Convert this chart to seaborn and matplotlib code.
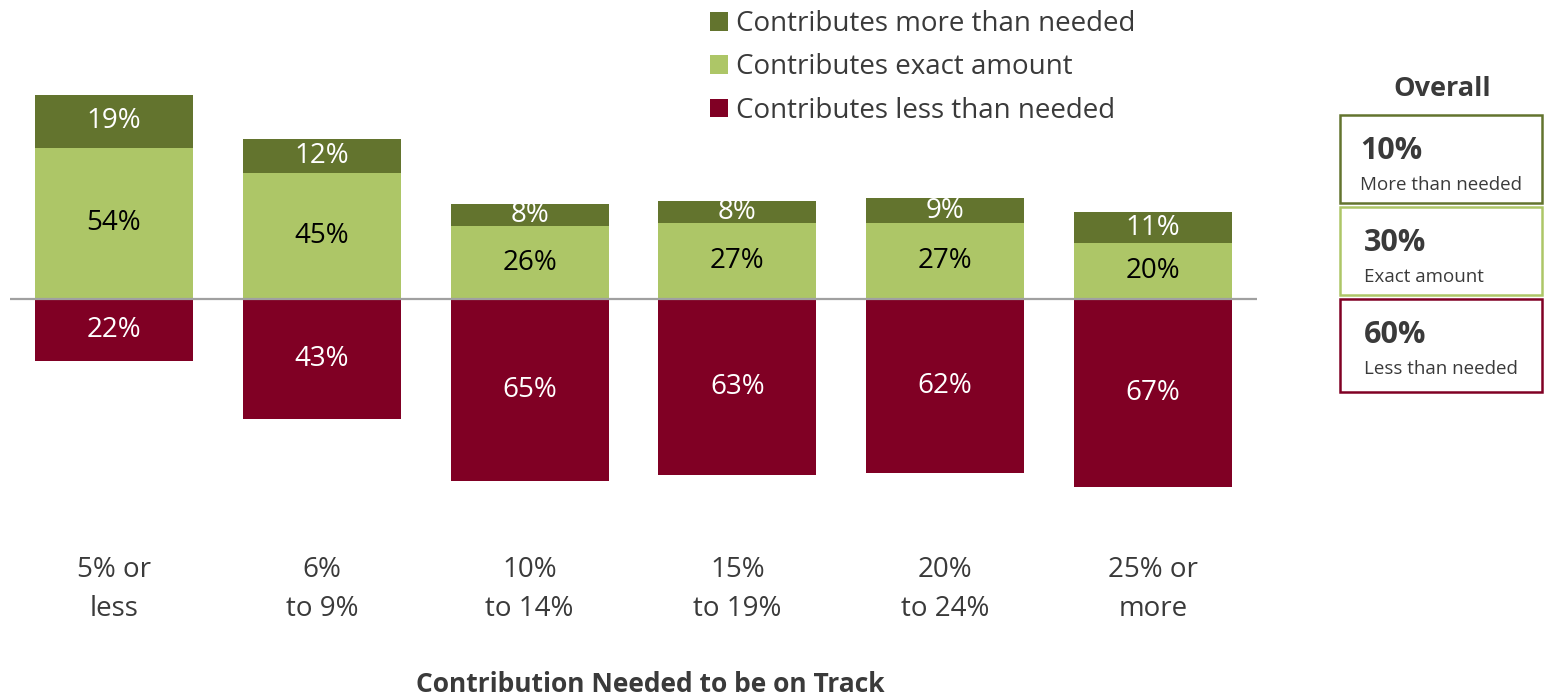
import matplotlib
matplotlib.use("Agg")
import matplotlib.pyplot as plt
import matplotlib.patches as mpatches
import seaborn as sns
import pandas as pd
import numpy as np

categories = ["5% or\nless", "6%\nto 9%", "10%\nto 14%", "15%\nto 19%", "20%\nto 24%", "25% or\nmore"]
more_than = [19, 12, 8, 8, 9, 11]
exact = [54, 45, 26, 27, 27, 20]
less_than = [22, 43, 65, 63, 62, 67]
series_names = ["Contributes more than needed", "Contributes exact amount", "Contributes less than needed"]
overall_values = [10, 30, 60]
overall_labels = ["More than needed", "Exact amount", "Less than needed"]
x_title = "Contribution Needed to be on Track"

C_DARK = "#63742E"
C_LIGHT = "#ADC667"
C_RED = "#800024"
TXT = "#3A3A3A"

sns.set_theme(style="white")
plt.rcParams['font.family'] = ['Open Sans', 'DejaVu Sans']

W, H = 1546, 700
fig = plt.figure(figsize=(W / 100, H / 100), dpi=100)
ax = fig.add_axes([10 / W, (700 - 525) / H, 1247 / W, 480 / H])

df = pd.DataFrame({
    "cat": categories,
    "more": more_than,
    "exact": exact,
    "less": less_than,
})
df["top"] = df["more"] + df["exact"]
df["neg"] = -df["less"]

bw = 0.76
sns.barplot(data=df, x="cat", y="top", color=C_DARK, width=bw, ax=ax,
            saturation=1, linewidth=0, label=series_names[0])
sns.barplot(data=df, x="cat", y="exact", color=C_LIGHT, width=bw, ax=ax,
            saturation=1, linewidth=0, label=series_names[1])
sns.barplot(data=df, x="cat", y="neg", color=C_RED, width=bw, ax=ax,
            saturation=1, linewidth=0, label=series_names[2])

ax.axhline(0, color="#A0A0A0", lw=1.6, zorder=5)
ax.set_xlim(-0.5, 5.5)
ax.set_ylim(-80.7, 90.7)

LBL = 20
for i in range(len(categories)):
    m, e, l = more_than[i], exact[i], less_than[i]
    ax.text(i, e + m / 2, f"{m}%", ha="center", va="center", color="white", fontsize=LBL)
    ax.text(i, e / 2, f"{e}%", ha="center", va="center", color="black", fontsize=LBL)
    ax.text(i, -l / 2, f"{l}%", ha="center", va="center", color="white", fontsize=LBL)

ax.set_yticks([])
ax.set_xticks(range(len(categories)))
ax.set_xticklabels(categories, fontsize=20, color=TXT, linespacing=1.55)
ax.tick_params(axis="x", length=0, pad=22)
ax.set_xlabel("")
ax.set_ylabel("")
for s in ax.spines.values():
    s.set_visible(False)

fig.text(650 / W, 1 - 685 / H, x_title, ha="center", va="center",
         fontsize=19, fontweight="bold", color=TXT)

handles, labels = ax.get_legend_handles_labels()
leg = fig.legend(handles, labels, loc="upper left", bbox_to_anchor=(685 / W, 1 + 15 / H),
                 frameon=False, fontsize=20, handlelength=0.65, handleheight=0.65,
                 handletextpad=0.3, labelspacing=0.55)
for t in leg.get_texts():
    t.set_color(TXT)
if ax.get_legend():
    ax.get_legend().remove()

# Overall panel
fig.text(1442 / W, 1 - 89 / H, "Overall", ha="center", va="center",
         fontsize=19.5, fontweight="bold", color=TXT)
boxes = [(115, 203, C_DARK, 1360), (207, 295, C_LIGHT, 1364), (299, 392, C_RED, 1364)]
for (y0, y1, col, tx), v, lab in zip(boxes, overall_values, overall_labels):
    rect = mpatches.Rectangle((1340 / W, 1 - y1 / H), 202 / W, (y1 - y0) / H,
                              transform=fig.transFigure, fill=False, edgecolor=col, lw=1.8)
    fig.add_artist(rect)
    fig.text(tx / W, 1 - (y0 + 36) / H, f"{v}%", ha="left", va="center",
             fontsize=22, fontweight="bold", color=TXT)
    fig.text(tx / W, 1 - (y0 + 70) / H, lab, ha="left", va="center",
             fontsize=13.5, color=TXT)

fig.savefig("out.png", dpi=100)
